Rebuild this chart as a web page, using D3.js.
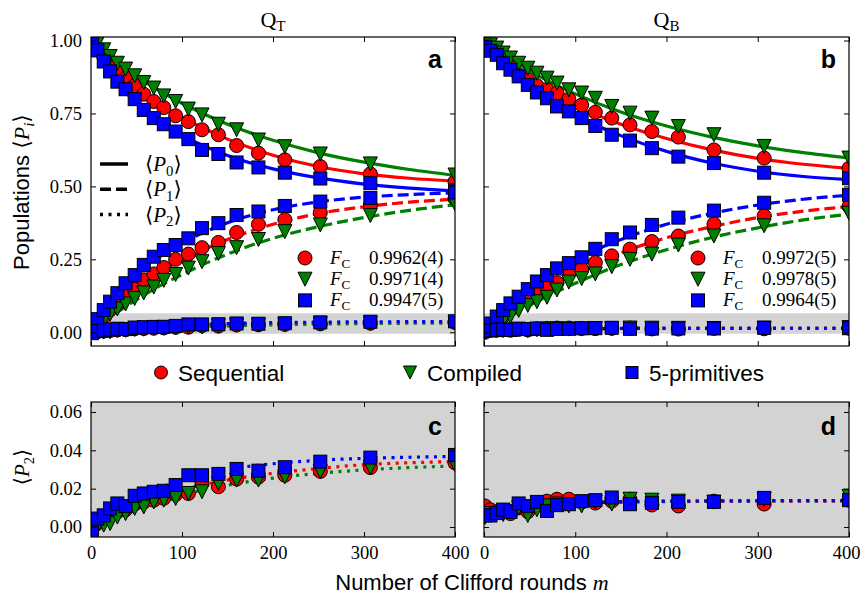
<!DOCTYPE html>
<html>
<head>
<meta charset="utf-8">
<script src="https://cdn.jsdelivr.net/npm/d3@7"></script>
<style>
  body { margin: 0; background: #fff; }
  .serif { font-family: 'Liberation Serif', 'DejaVu Serif', serif; }
  .sans { font-family: 'Liberation Sans', Arial, sans-serif; }
</style>
</head>
<body>
<svg id="chart" width="862" height="600"></svg>
<script>
// Clifford rounds where data was taken
const rounds = [1, 7, 14, 21, 29, 38, 48, 58, 69, 80, 93, 107, 122, 140, 160, 184, 213, 252, 307, 400]
// m grid for fit curves
const fitRounds = [0, 25, 50, 75, 100, 150, 200, 250, 300, 350, 400]

const methods = ['Sequential', 'Compiled', '5-primitives']
const colors = ['#ff0000', '#008000', '#0000ff']
const popTicks = [0, 0.25, 0.5, 0.75, 1.0]
const leakTicks = [0, 0.02, 0.04, 0.06]
const roundTicks = [0, 100, 200, 300, 400]
const fidQT = ['0.9962(4)', '0.9971(4)', '0.9947(5)']
const fidQB = ['0.9972(5)', '0.9978(5)', '0.9964(5)']

// Q_T measured populations
const qtSeqP0 = [0.990, 0.970, 0.945, 0.918, 0.894, 0.871, 0.845, 0.816, 0.791, 0.770, 0.742, 0.722, 0.694, 0.677, 0.640, 0.614, 0.591, 0.568, 0.543, 0.516]
const qtSeqP1 = [0.005, 0.029, 0.052, 0.077, 0.099, 0.125, 0.148, 0.180, 0.200, 0.222, 0.250, 0.268, 0.290, 0.308, 0.342, 0.370, 0.386, 0.410, 0.435, 0.458]
const qtSeqP2 = [0.001, 0.002, 0.004, 0.006, 0.008, 0.009, 0.012, 0.013, 0.014, 0.015, 0.017, 0.0175, 0.0228, 0.021, 0.025, 0.026, 0.027, 0.029, 0.031, 0.0335]
const qtCmpP0 = [0.997, 0.991, 0.968, 0.945, 0.922, 0.902, 0.879, 0.856, 0.837, 0.810, 0.791, 0.765, 0.745, 0.713, 0.694, 0.659, 0.636, 0.611, 0.577, 0.539]
const qtCmpP1 = [0.002, 0.022, 0.042, 0.062, 0.080, 0.097, 0.116, 0.135, 0.155, 0.178, 0.198, 0.220, 0.242, 0.270, 0.290, 0.318, 0.345, 0.368, 0.400, 0.440]
const qtCmpP2 = [-0.002, 0.000, 0.001, 0.0018, 0.0052, 0.007, 0.0097, 0.0105, 0.0131, 0.014, 0.0149, 0.0175, 0.0184, 0.0228, 0.0245, 0.0245, 0.0262, 0.0289, 0.031, 0.0324]
const qtPrmP0 = [0.997, 0.966, 0.928, 0.894, 0.859, 0.833, 0.799, 0.762, 0.734, 0.713, 0.688, 0.662, 0.625, 0.611, 0.582, 0.565, 0.547, 0.527, 0.511, 0.486]
const qtPrmP1 = [0.010, 0.045, 0.076, 0.105, 0.134, 0.168, 0.196, 0.231, 0.259, 0.282, 0.299, 0.322, 0.357, 0.374, 0.402, 0.414, 0.433, 0.448, 0.460, 0.479]
const qtPrmP2 = [-0.003, 0.0044, 0.0061, 0.0097, 0.0123, 0.0109, 0.0163, 0.0175, 0.0184, 0.0189, 0.0219, 0.027, 0.027, 0.0277, 0.0303, 0.0294, 0.0312, 0.0341, 0.0362, 0.0376]

// Q_B measured populations
const qbSeqP0 = [0.990, 0.975, 0.955, 0.935, 0.910, 0.882, 0.865, 0.845, 0.832, 0.820, 0.799, 0.779, 0.754, 0.734, 0.711, 0.688, 0.669, 0.625, 0.597, 0.562]
const qbSeqP1 = [0.000, 0.015, 0.035, 0.055, 0.080, 0.105, 0.122, 0.145, 0.159, 0.170, 0.202, 0.216, 0.239, 0.262, 0.285, 0.311, 0.330, 0.371, 0.399, 0.431]
const qbSeqP2 = [0.011, 0.009, 0.008, 0.0085, 0.007, 0.010, 0.008, 0.012, 0.0135, 0.0145, 0.0145, 0.013, 0.0125, 0.0135, 0.0145, 0.0115, 0.011, 0.0135, 0.012, 0.014]
const qbCmpP0 = [0.995, 0.985, 0.974, 0.957, 0.940, 0.922, 0.905, 0.888, 0.871, 0.854, 0.831, 0.820, 0.802, 0.774, 0.751, 0.734, 0.705, 0.677, 0.637, 0.597]
const qbCmpP1 = [0.000, 0.010, 0.025, 0.040, 0.055, 0.075, 0.092, 0.105, 0.120, 0.145, 0.172, 0.184, 0.200, 0.225, 0.250, 0.268, 0.299, 0.330, 0.365, 0.408]
const qbCmpP2 = [0.005, 0.007, 0.007, 0.0065, 0.008, 0.010, 0.006, 0.009, 0.011, 0.012, 0.011, 0.011, 0.013, 0.012, 0.0145, 0.014, 0.0135, 0.013, 0.0145, 0.016]
const qbPrmP0 = [0.979, 0.965, 0.951, 0.922, 0.900, 0.877, 0.848, 0.822, 0.802, 0.774, 0.757, 0.734, 0.707, 0.677, 0.657, 0.631, 0.602, 0.580, 0.547, 0.528]
const qbPrmP1 = [0.010, 0.030, 0.054, 0.076, 0.099, 0.122, 0.148, 0.174, 0.196, 0.219, 0.237, 0.257, 0.286, 0.319, 0.342, 0.368, 0.393, 0.417, 0.444, 0.471]
const qbPrmP2 = [0.0061, 0.006, 0.0073, 0.0091, 0.0079, 0.0123, 0.0109, 0.0131, 0.0084, 0.0114, 0.0119, 0.0135, 0.014, 0.0154, 0.0119, 0.0126, 0.0131, 0.0131, 0.0152, 0.014]

// fit curves at fitRounds
const qtSeqP0Fit = [1.0, 0.91, 0.84, 0.783, 0.737, 0.662, 0.607, 0.568, 0.543, 0.528, 0.518]
const qtSeqP1Fit = [0.0, 0.085, 0.150, 0.207, 0.247, 0.318, 0.370, 0.407, 0.430, 0.446, 0.456]
const qtSeqP2Fit = [0.0, 0.007, 0.012, 0.016, 0.0195, 0.0245, 0.028, 0.0305, 0.0325, 0.0335, 0.0342]
const qtCmpP0Fit = [1.0, 0.937, 0.878, 0.828, 0.785, 0.713, 0.658, 0.615, 0.583, 0.558, 0.538]
const qtCmpP1Fit = [0.0, 0.060, 0.112, 0.158, 0.198, 0.268, 0.322, 0.362, 0.393, 0.418, 0.437]
const qtCmpP2Fit = [0.0, 0.005, 0.0095, 0.0135, 0.0168, 0.0218, 0.0255, 0.028, 0.0298, 0.031, 0.0318]
const qtPrmP0Fit = [1.0, 0.87, 0.785, 0.722, 0.676, 0.606, 0.560, 0.529, 0.508, 0.494, 0.485]
const qtPrmP1Fit = [0.0, 0.115, 0.196, 0.258, 0.305, 0.375, 0.420, 0.447, 0.463, 0.472, 0.478]
const qtPrmP2Fit = [0.0, 0.009, 0.0155, 0.0205, 0.0245, 0.0300, 0.0330, 0.0348, 0.0358, 0.0364, 0.0368]

const qbSeqP0Fit = [1.0, 0.925, 0.866, 0.817, 0.777, 0.713, 0.664, 0.625, 0.596, 0.576, 0.562]
const qbSeqP1Fit = [0.0, 0.065, 0.120, 0.167, 0.208, 0.273, 0.324, 0.362, 0.393, 0.415, 0.431]
const qbSeqP2Fit = [0.009, 0.0105, 0.0115, 0.012, 0.0125, 0.013, 0.0132, 0.0134, 0.0135, 0.0135, 0.0136]
const qbCmpP0Fit = [1.0, 0.945, 0.896, 0.854, 0.817, 0.755, 0.707, 0.669, 0.639, 0.616, 0.598]
const qbCmpP1Fit = [0.0, 0.048, 0.092, 0.132, 0.168, 0.232, 0.283, 0.325, 0.358, 0.385, 0.405]
const qbCmpP2Fit = [0.006, 0.0085, 0.0105, 0.0115, 0.0122, 0.013, 0.0134, 0.0136, 0.0137, 0.0138, 0.0138]
const qbPrmP0Fit = [1.0, 0.905, 0.838, 0.785, 0.742, 0.674, 0.620, 0.580, 0.552, 0.534, 0.523]
const qbPrmP1Fit = [0.0, 0.085, 0.150, 0.203, 0.248, 0.318, 0.370, 0.408, 0.436, 0.456, 0.470]
const qbPrmP2Fit = [0.007, 0.0092, 0.0108, 0.0118, 0.0125, 0.0132, 0.0135, 0.0136, 0.0137, 0.0138, 0.0138]

const qubits = [
  { name: 'T', x0: 91, x1: 455, fid: fidQT, letters: ['a', 'c'],
    pts: [[qtSeqP0, qtSeqP1, qtSeqP2], [qtCmpP0, qtCmpP1, qtCmpP2], [qtPrmP0, qtPrmP1, qtPrmP2]],
    fits: [[qtSeqP0Fit, qtSeqP1Fit, qtSeqP2Fit], [qtCmpP0Fit, qtCmpP1Fit, qtCmpP2Fit], [qtPrmP0Fit, qtPrmP1Fit, qtPrmP2Fit]] },
  { name: 'B', x0: 484, x1: 849, fid: fidQB, letters: ['b', 'd'],
    pts: [[qbSeqP0, qbSeqP1, qbSeqP2], [qbCmpP0, qbCmpP1, qbCmpP2], [qbPrmP0, qbPrmP1, qbPrmP2]],
    fits: [[qbSeqP0Fit, qbSeqP1Fit, qbSeqP2Fit], [qbCmpP0Fit, qbCmpP1Fit, qbCmpP2Fit], [qbPrmP0Fit, qbPrmP1Fit, qbPrmP2Fit]] }
]

const svg = d3.select('#chart')
const dashes = [null, '11,5', '3,5.5']
const gray = '#d3d3d3'

function marker (sel, k, s) {
  if (k === 0) return sel.append('circle').attr('r', s)
  if (k === 1) return sel.append('path').attr('d', `M${-s},${-s}L${s},${-s}L0,${s}Z`)
  return sel.append('rect').attr('x', -s + 0.5).attr('y', -s + 0.5).attr('width', 2 * s - 1).attr('height', 2 * s - 1)
}

function mathP (t, sub, fs) {
  t.append('tspan').text('⟨')
  t.append('tspan').attr('font-style', 'italic').text('P')
  t.append('tspan').attr('font-size', fs * 0.7).attr('dy', fs * 0.22).text(sub)
  t.append('tspan').attr('dy', -fs * 0.22).text('⟩')
}

function panel (q, top) {
  const y0 = top ? 37 : 402
  const y1 = top ? 346 : 537
  const x = d3.scaleLinear().domain([0, 400]).range([q.x0, q.x1])
  const y = d3.scaleLinear().domain(top ? [-0.047, 1.012] : [-0.0052, 0.0652]).range([y1, y0])
  const g = svg.append('g')
  const clipId = `clip-${q.name}-${top ? 't' : 'b'}`
  g.append('clipPath').attr('id', clipId).append('rect')
    .attr('x', q.x0).attr('y', y0).attr('width', q.x1 - q.x0).attr('height', y1 - y0)
  const plot = g.append('g').attr('clip-path', `url(#${clipId})`)

  // shaded leakage band / background
  const band = top ? [-0.005, 0.065] : [-0.0052, 0.0652]
  plot.append('rect').attr('x', q.x0).attr('width', q.x1 - q.x0)
    .attr('y', y(band[1])).attr('height', y(band[0]) - y(band[1])).attr('fill', gray)

  const pops = top ? [0, 1, 2] : [2]
  const line = d3.line().curve(d3.curveMonotoneX).x(d => x(d[0])).y(d => y(d[1]))
  methods.forEach((m, k) => {
    pops.forEach(p => {
      plot.append('path')
        .datum(fitRounds.map((r, i) => [r, q.fits[k][p][i]]))
        .attr('d', line).attr('fill', 'none').attr('stroke', colors[k])
        .attr('stroke-width', 3.2).attr('stroke-dasharray', dashes[p])
    })
  })
  methods.forEach((m, k) => {
    pops.forEach(p => {
      rounds.forEach((r, i) => {
        const mk = plot.append('g').attr('transform', `translate(${x(r)},${y(q.pts[k][p][i])})`)
        marker(mk, k, 7).attr('fill', colors[k]).attr('stroke', '#000').attr('stroke-width', 1)
      })
    })
  })

  // axes with inward ticks
  const ticks = top ? popTicks : leakTicks
  const fmt = d3.format('.2f')
  const ax = g.append('g').attr('class', 'serif').attr('font-size', 18.5)
  ax.append('g').attr('transform', `translate(${q.x0},0)`)
    .call(d3.axisLeft(y).tickValues(ticks).tickSizeInner(-5).tickSizeOuter(0).tickPadding(9)
      .tickFormat(q.name === 'T' ? fmt : ''))
  ax.append('g').attr('transform', `translate(${q.x1},0)`)
    .call(d3.axisRight(y).tickValues(ticks).tickSizeInner(-5).tickSizeOuter(0).tickFormat(''))
  ax.append('g').attr('transform', `translate(0,${y0})`)
    .call(d3.axisTop(x).tickValues(roundTicks).tickSizeInner(-5).tickSizeOuter(0).tickFormat(''))
  const bx = ax.append('g').attr('transform', `translate(0,${y1})`)
    .call(d3.axisBottom(x).tickValues(roundTicks).tickSizeInner(-5).tickSizeOuter(0).tickPadding(9)
      .tickFormat(top ? '' : d3.format('d')))
  // keep the last label inside the page
  if (!top && q.name === 'B') bx.selectAll('.tick:last-of-type text').attr('dx', -3)
  ax.selectAll('g').attr('font-family', null).attr('font-size', null)
  ax.selectAll('.domain').remove()
  ax.selectAll('line').attr('stroke', '#000').attr('stroke-width', 1)
  ax.selectAll('text').attr('fill', '#000')

  g.append('rect').attr('x', q.x0).attr('y', y0).attr('width', q.x1 - q.x0).attr('height', y1 - y0)
    .attr('fill', 'none').attr('stroke', '#000').attr('stroke-width', 1.2)

  g.append('text').attr('class', 'sans').attr('font-weight', 'bold').attr('font-size', 25)
    .attr('text-anchor', 'end').attr('x', q.x1 - 13).attr('y', top ? 68 : 435)
    .text(q.letters[top ? 0 : 1])

  if (!top) return
  // fidelity legend
  const lx = q.x0 + 214
  q.fid.forEach((f, k) => {
    const ly = 258 + k * 21.2
    const mk = g.append('g').attr('transform', `translate(${lx},${ly})`)
    marker(mk, k, 7).attr('fill', colors[k]).attr('stroke', '#000').attr('stroke-width', 1)
    const t = g.append('text').attr('class', 'serif').attr('font-size', 19).attr('x', lx + 25).attr('y', ly + 6)
    t.append('tspan').attr('font-style', 'italic').text('F')
    t.append('tspan').attr('font-size', 13).attr('dy', 4).text('C')
    g.append('text').attr('class', 'serif').attr('font-size', 19).attr('x', lx + 64).attr('y', ly + 6).text(f)
  })
}

qubits.forEach(q => {
  panel(q, true)
  panel(q, false)
  const t = svg.append('text').attr('class', 'serif').attr('font-size', 22)
    .attr('text-anchor', 'middle').attr('x', (q.x0 + q.x1) / 2).attr('y', 27)
  t.append('tspan').text('Q')
  t.append('tspan').attr('font-size', 15).attr('dy', 4).text(q.name)
})

// line style legend in panel a
;['0', '1', '2'].forEach((s, p) => {
  const ly = 164 + p * 25.3
  svg.append('line').attr('x1', 100).attr('x2', 128).attr('y1', ly).attr('y2', ly)
    .attr('stroke', '#000').attr('stroke-width', 3.5).attr('stroke-dasharray', dashes[p])
  const t = svg.append('text').attr('class', 'serif').attr('font-size', 21).attr('x', 145).attr('y', ly + 7)
  mathP(t, s, 21)
})

// method legend between rows
const legendX = [161, 410, 632]
methods.forEach((m, k) => {
  const mk = svg.append('g').attr('transform', `translate(${legendX[k]},372.5)`)
  marker(mk, k, 6.5).attr('fill', colors[k]).attr('stroke', '#000').attr('stroke-width', 1)
  svg.append('text').attr('class', 'sans').attr('font-size', 22.5)
    .attr('x', legendX[k] + 17).attr('y', 380.5).text(m)
})

// axis titles
const yl = svg.append('text').attr('class', 'sans').attr('font-size', 22).attr('text-anchor', 'middle')
  .attr('transform', 'translate(29,192) rotate(-90)')
yl.append('tspan').text('Populations ')
const ylm = yl.append('tspan').attr('class', 'serif')
ylm.append('tspan').text('⟨')
ylm.append('tspan').attr('font-style', 'italic').text('P')
ylm.append('tspan').attr('font-size', 15).attr('font-style', 'italic').attr('dy', 5).text('i')
ylm.append('tspan').attr('dy', -5).text('⟩')

const yl2 = svg.append('text').attr('class', 'serif').attr('font-size', 21).attr('text-anchor', 'middle')
  .attr('transform', 'translate(29,467) rotate(-90)')
mathP(yl2, '2', 21)

const xl = svg.append('text').attr('class', 'sans').attr('font-size', 22).attr('text-anchor', 'middle')
  .attr('x', 472).attr('y', 590)
xl.append('tspan').text('Number of Clifford rounds ')
xl.append('tspan').attr('class', 'serif').attr('font-style', 'italic').text('m')
</script>
</body>
</html>
